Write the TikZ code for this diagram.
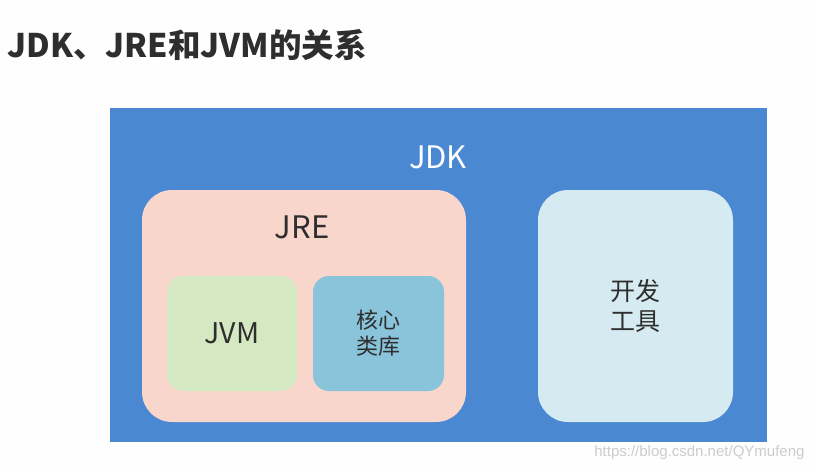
\documentclass[tikz,border=0pt]{standalone}
\usepackage{fontspec}
\setmainfont{Noto Sans CJK SC}
\newfontfamily\markfont{Liberation Sans}
\definecolor{jdkblue}{HTML}{4A88D2}
\definecolor{jrepink}{HTML}{F8D6CC}
\definecolor{jvmgreen}{HTML}{D4E9C1}
\definecolor{libblue}{HTML}{89C4DA}
\definecolor{toolblue}{HTML}{D6EAF1}
\definecolor{inktext}{HTML}{2E2E2E}
\begin{document}
\begin{tikzpicture}[x=1pt,y=-1pt, line join=round, line cap=round,
  box/.style={rectangle, draw=none, inner sep=0pt},
  bigbox/.style={box, rounded corners=30pt},
  smallbox/.style={box, rounded corners=16pt},
  inner/.style={text=inktext, align=center, font=\fontsize{22}{26}\selectfont}]
\useasboundingbox[fill=white!99!gray] (0,0) rectangle (817,469);
% title
\node[anchor=west, text=inktext, font=\fontsize{32.5}{36}\selectfont\bfseries] (title) at (4,45) {JDK、JRE和JVM的关系};
% outer JDK frame
\node[box, fill=jdkblue, minimum width=657pt, minimum height=334pt] (jdk) at (438.5,275) {};
\node[text=white, font=\fontsize{31}{34}\selectfont] (jdklbl) at (438,157) {JDK};
% JRE and its parts
\node[bigbox, fill=jrepink, minimum width=324pt, minimum height=232pt] (jre) at (304,306) {};
\node[text=inktext, font=\fontsize{31}{34}\selectfont] (jrelbl) at (302,227) {JRE};
\node[smallbox, fill=jvmgreen, minimum width=130pt, minimum height=115pt, inner, font=\fontsize{28.5}{32}\selectfont] (jvm) at (232,333.5) {JVM};
\node[smallbox, fill=libblue, minimum width=131pt, minimum height=115pt, inner] (corelib) at (378.5,333.5) {核心\\类库};
% tools
\node[bigbox, fill=toolblue, minimum width=195pt, minimum height=232pt, inner, font=\fontsize{25}{30}\selectfont] (tools) at (635.5,306) {开发\\工具};
% watermark
\node[anchor=east, text=gray!40, font=\markfont\fontsize{15}{17}\selectfont] (mark) at (808,453) {https://blog.csdn.net/QYmufeng};
\end{tikzpicture}
\end{document}
